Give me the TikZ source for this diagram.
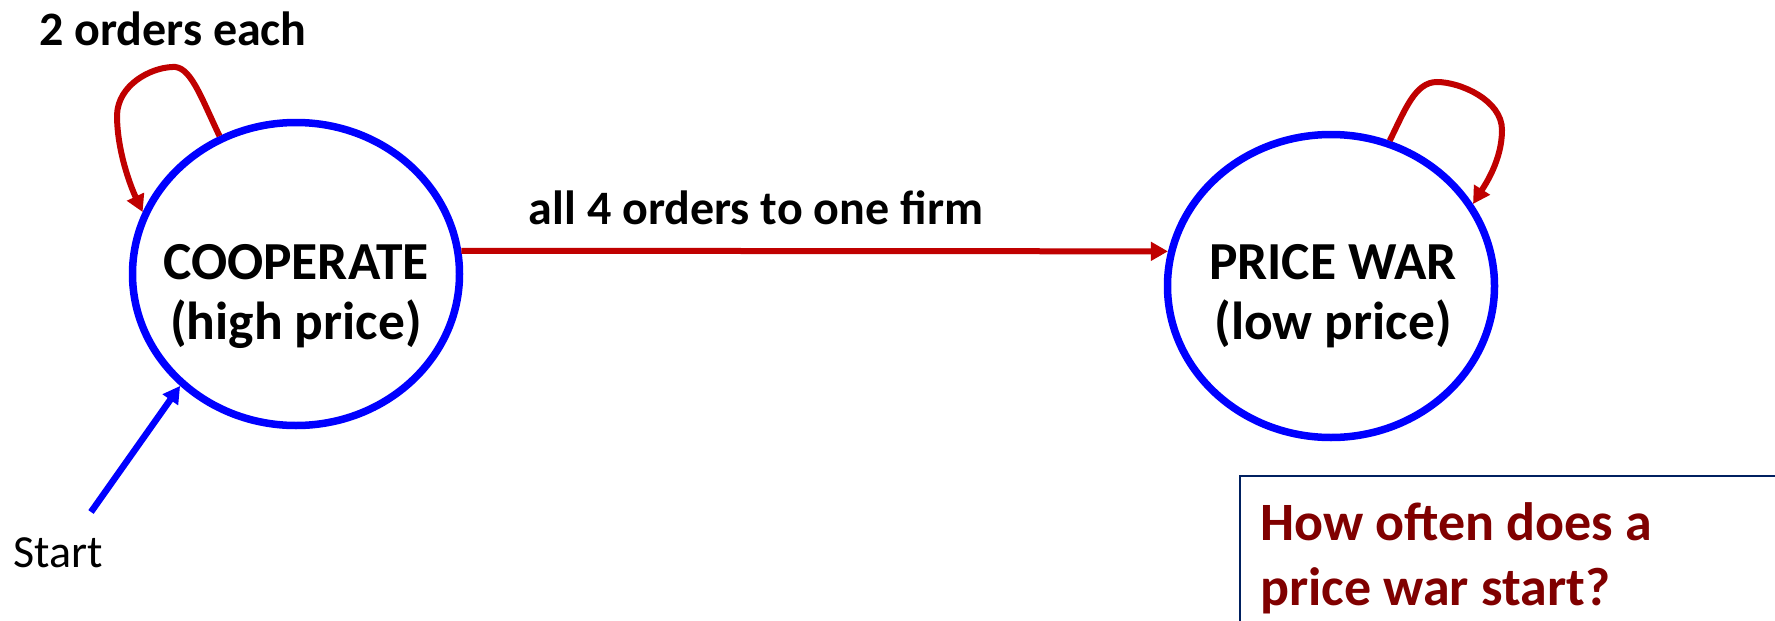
\documentclass[tikz,border=0pt]{standalone}
\usepackage{fontspec}
\setmainfont{Carlito}
\usetikzlibrary{arrows.meta,shapes.geometric}
\definecolor{stateblue}{RGB}{0,0,255}
\definecolor{edgered}{RGB}{192,0,0}
\definecolor{qred}{RGB}{128,0,0}
\definecolor{boxnavy}{RGB}{0,32,96}
\begin{document}
\begin{tikzpicture}[x=1pt,y=-1pt,
  state/.style={draw=stateblue, line width=7.5pt, ellipse, minimum width=327pt, minimum height=303pt, inner sep=0pt},
  statetxt/.style={font=\fontsize{53.5}{60}\selectfont\bfseries, align=center, inner sep=0pt},
  redarrow/.style={draw=edgered, line width=6pt, -{Triangle[length=17pt,width=18pt]}},
  bluearrow/.style={draw=stateblue, line width=6.5pt, -{Triangle[length=17pt,width=18pt]}},
  lbl/.style={font=\fontsize{48}{56}\selectfont\bfseries, inner sep=0pt},
  qtxt/.style={font=\fontsize{54}{65}\selectfont\bfseries, text=qred, anchor=base west, inner sep=0pt}
]
\clip (0,0) rectangle (1775,621);
\fill[white] (0,0) rectangle (1775,621);

\node[state] (coop) at (296,274) {};
\node[state] (war) at (1331,286) {};
\node[statetxt, anchor=base] (cooptxt) at (296,339) {COOPERATE\\(high price)};
\node[statetxt, anchor=base] (wartxt) at (1333,339) {PRICE WAR\\(low price)};

% transition
\draw[redarrow] (coop.8) -- (war.168);
\node[lbl, anchor=base] (translbl) at (756,224) {all 4 orders to one firm};

% self loops
\draw[redarrow] (coop.119) .. controls (200,95) and (190,65) .. (172,67)
  .. controls (150,68) and (118,85) .. (117,115)
  .. controls (117,150) and (130,185) .. (coop.158);
\node[lbl, anchor=base west] (looplbl) at (39,45) {2 orders each};

\draw[redarrow] (war.68) .. controls (1405,110) and (1415,82) .. (1437,82)
  .. controls (1460,82) and (1502,100) .. (1502,130)
  .. controls (1502,160) and (1485,185) .. (war.30);

% start
\coordinate (startpt) at (91,512);
\draw[bluearrow] (startpt) -- (coop.224);
\node[font=\fontsize{46}{54}\selectfont, anchor=base west, inner sep=0pt] (startlbl) at (13,567) {Start};

% question box
\draw[boxnavy, line width=2.5pt] (1240,476) rectangle (1800,660);
\node[qtxt] (question) at (1260,540) {How often does a};
\node[qtxt] (question2) at (1260,605) {price war start?};
\end{tikzpicture}
\end{document}
